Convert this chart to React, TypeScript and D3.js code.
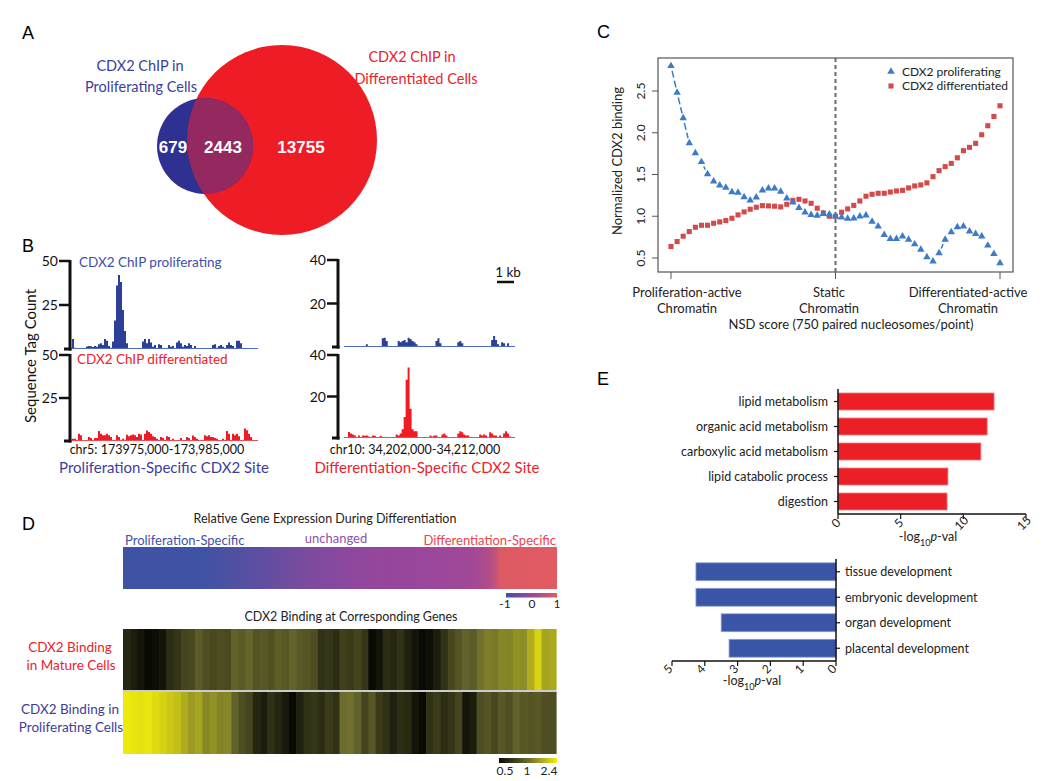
import React from 'react';
import * as d3 from 'd3';

const FONT = "Lato, 'Open Sans', sans-serif";
const BOLD = "'Liberation Sans', Arial, sans-serif";
const BLUE_TXT = '#3B3E9C';
const RED_TXT = '#EC2229';

// ---------- Panel A : Venn ----------
const vennSetLabels = [
  ['CDX2 ChIP in', 'Proliferating Cells'],
  ['CDX2 ChIP in', 'Differentiated Cells'],
];
const vennCounts = [679, 2443, 13755];

// ---------- Panel B : browser tracks ----------
const prolifSiteProlif = [
  5.5, 0.5, 0, 0, 0, 0, 0, 1.2, 1.5, 1.3,
  0.8, 1.5, 1.0, 2.5, 3.0, 2.0, 5.5, 4.5, 1.5, 0.5,
  4, 16, 36, 42, 38, 22, 10, 3, 0, 0,
  0, 0, 0, 0, 0, 4, 5.5, 3, 5.5, 3.5,
  1, 2, 0, 2.5, 2, 0, 0, 0, 2, 1,
  1.5, 0, 3.5, 4.5, 3, 1, 2, 1.5, 3, 2,
  0, 1.5, 0, 0, 0, 0, 0, 0, 0, 0,
  2, 2.5, 0.5, 1.5, 2, 1, 0, 2, 3.5, 2,
  1.5, 0, 4.5, 4.5, 3, 0, 0, 0, 0, 0,
  0, 0, 0,
];
const prolifSiteDiff = [
  1, 1, 0, 3.9, 3, 0, 0, 0, 2, 1.5,
  0, 1.5, 1.5, 5.5, 4, 3, 3, 4, 3, 2,
  0, 0, 3, 2, 0, 1, 0, 3.3, 2.5, 3,
  3.5, 3, 2, 4, 3.5, 0, 4, 5.8, 5, 4,
  2.5, 2, 1, 0, 2, 1.5, 0, 2.5, 2, 0,
  1, 0, 0, 0, 1.5, 0, 0, 2, 1.5, 0,
  2.9, 2, 1, 0, 0, 0, 3, 2.5, 3, 2,
  2, 1.5, 1, 0, 0, 1, 0, 5.5, 4, 0,
  4, 3, 4, 2.5, 0, 0, 7, 6, 4, 2,
  0, 0, 0,
];
const diffSiteProlif = [
  0, 0, 0, 0, 0, 0, 0, 0, 0, 0,
  0, 1, 0, 0, 0, 0, 0, 0, 0, 3.8,
  4, 2.5, 0, 0, 0, 0, 0, 2.6, 2, 2.6,
  3, 2, 4.1, 3.5, 2.5, 2, 1, 0, 0, 0,
  0, 0, 0, 0, 0, 0, 2.5, 3.8, 1.5, 0,
  0, 0, 0, 0, 0, 0, 0, 2, 2.6, 1.5,
  0, 0, 0, 0, 0, 0, 0, 0, 0, 0,
  0, 0, 0, 0, 3, 4.9, 3, 1, 0, 2,
  1.5, 0, 1.5, 0, 0, 0,
];
const diffSiteDiff = [
  0, 0, 2.7, 2, 1.5, 1, 0, 1, 0, 1,
  0.8, 1, 0.5, 0, 1, 0.8, 0, 0, 0.8, 0,
  0, 0, 0, 0, 0, 0, 1.5, 1, 2, 4,
  10, 28, 34, 14, 4, 3, 3, 0, 0, 0,
  0, 0, 0, 1, 0.5, 1, 1, 0, 0, 1.5,
  2, 1, 0, 0, 0, 0, 0, 2, 3, 2.5,
  1.5, 1, 1, 0, 0, 0, 0, 0, 1.5, 1,
  1.5, 1, 0, 2.5, 2, 1, 1, 0, 1, 0,
  2, 3, 2, 0.5, 0, 0,
];
const leftTicks = [50, 25];
const rightTicks = [40, 20];

// ---------- Panel C : NSD ----------
const nsdProlif = [
  2.80, 2.48, 2.175, 1.876, 1.757, 1.65, 1.506, 1.418, 1.37, 1.343,
  1.29, 1.283, 1.23, 1.19, 1.227, 1.31, 1.335, 1.335, 1.295, 1.215,
  1.167, 1.10, 1.048, 1.016, 1.008, 1.028, 1.024, 1.0, 0.988, 0.972,
  0.976, 1.0, 1.012, 0.936, 0.88, 0.777, 0.73, 0.73, 0.76, 0.72,
  0.665, 0.60, 0.51, 0.46, 0.56, 0.72, 0.81, 0.87, 0.88, 0.82,
  0.79, 0.76, 0.65, 0.55, 0.44,
];
const nsdDiff = [
  0.637, 0.697, 0.761, 0.817, 0.868, 0.892, 0.892, 0.916, 0.932, 0.948,
  0.976, 1.016, 1.052, 1.084, 1.108, 1.127, 1.124, 1.12, 1.112, 1.143,
  1.19, 1.203, 1.183, 1.155, 1.096, 1.04, 1.0, 1.0, 1.048, 1.088,
  1.13, 1.183, 1.24, 1.263, 1.275, 1.275, 1.29, 1.303, 1.31, 1.339,
  1.363, 1.375, 1.40, 1.474, 1.546, 1.594, 1.633, 1.70, 1.785, 1.825,
  1.873, 1.976, 2.084, 2.195, 2.323,
];
const nsdYTicks = [0.5, 1.0, 1.5, 2.0, 2.5];
const nsdXTickLabels = [
  ['Proliferation-active', 'Chromatin'],
  ['Static', 'Chromatin'],
  ['Differentiated-active', 'Chromatin'],
];
const nsdSeries = ['CDX2 proliferating', 'CDX2 differentiated'];

// ---------- Panel D : expression / binding heatmaps ----------
const exprStopPos = [0, 0.18, 0.30, 0.42, 0.55, 0.70, 0.80, 0.84, 0.86, 0.87, 1.0];
const exprStopVal = [-1, -1, -0.7, -0.35, -0.1, 0.0, 0.08, 0.3, 0.6, 0.95, 1];
const bindingMature = [
  0.65, 0.6, 0.55, 0.5, 0.52, 0.55, 0.68, 0.72, 0.8, 0.82,
  0.92, 0.85, 0.82, 0.85, 0.83, 0.95, 0.92, 0.97, 0.88, 0.9,
  0.86, 0.93, 0.9, 0.96, 0.9, 0.88, 0.85, 0.7, 0.72, 0.68,
  0.78, 0.75, 0.8, 0.72, 0.5, 0.55, 0.68, 0.65, 0.7, 0.62,
  0.55, 0.5, 0.52, 0.6, 0.7, 0.82, 0.88, 0.95, 0.92, 1.05,
  1.2, 1.15, 1.3, 1.25, 1.4, 1.35, 1.7, 2.1, 1.6, 1.65,
];
const bindingProlif = [
  2.35, 2.3, 2.25, 2.3, 2.2, 2.1, 2.0, 1.9, 1.7, 1.5,
  1.6, 1.3, 1.4, 1.25, 1.3, 0.95, 0.85, 0.8, 0.65, 0.6,
  0.7, 0.65, 0.58, 0.5, 0.62, 0.7, 0.72, 0.68, 0.75, 0.7,
  1.0, 1.05, 0.95, 0.8, 0.9, 0.75, 0.7, 0.62, 0.68, 0.66,
  0.55, 0.5, 0.7, 0.75, 0.68, 0.72, 0.8, 0.55, 0.6, 0.85,
  0.88, 0.82, 0.9, 0.85, 0.95, 0.9, 0.88, 0.9, 0.85, 0.85,
];
const exprLegendTicks = [-1, 0, 1];
const bindLegendTicks = [0.5, 1, 2.4];

// ---------- Panel E : GO terms ----------
const upTerms = ['lipid metabolism', 'organic acid metabolism', 'carboxylic acid metabolism', 'lipid catabolic process', 'digestion'];
const upValues = [12.45, 11.9, 11.4, 8.77, 8.7];
const upTicks = [0, 5, 10, 15];
const downTerms = ['tissue development', 'embryonic development', 'organ development', 'placental development'];
const downValues = [4.27, 4.27, 3.5, 3.26];
const downTicks = [0, 1, 2, 3, 4, 5];

const exprColor = d3.scaleLinear<string>().domain([-1, 0, 1]).range(['#3F53A4', '#9A469C', '#E15B61']);
const bindColor = d3.scaleLinear<string>().domain([0.5, 1, 2.4]).range(['#0a0a05', '#6b6b2e', '#f3ef0c']);

function Track({ data, x0, x1, yBase, yTop, max, fill, line }: any) {
  const x = d3.scaleLinear().domain([0, data.length]).range([x0, x1]);
  const y = d3.scaleLinear().domain([0, max]).range([yBase, yTop]);
  const pts = [...data, data[data.length - 1]];
  const area = d3.area<number>().x((_, i) => x(i)).y0(y(0)).y1((d) => y(d)).curve(d3.curveStepAfter);
  return (
    <g>
      <path d={area(pts) || ''} fill={fill} />
      <line x1={x0} x2={x1} y1={y(0)} y2={y(0)} stroke={line} strokeWidth={1} />
    </g>
  );
}

function BAxis({ x, yBase, yTop, max, ticks }: any) {
  const y = d3.scaleLinear().domain([0, max]).range([yBase, yTop]);
  return (
    <g>
      <line x1={x} x2={x} y1={y(max) - 1} y2={y(0) + 1.5} stroke="#111" strokeWidth={3} />
      <line x1={x - 6} x2={x + 1.5} y1={y(0)} y2={y(0)} stroke="#111" strokeWidth={3} />
      {ticks.map((t: number) => (
        <g key={t}>
          <line x1={x - 11} x2={x} y1={y(t)} y2={y(t)} stroke="#111" strokeWidth={2.5} />
          <text x={x - 12} y={y(t) + 5} textAnchor="end" fontSize={14} fill="#111">{t}</text>
        </g>
      ))}
    </g>
  );
}

function PanelA() {
  const blue = { cx: 205, cy: 146, r: 48 };
  const red = { cx: 282, cy: 140, r: 95 };
  return (
    <g>
      <defs>
        <clipPath id="redClip"><circle cx={red.cx} cy={red.cy} r={red.r} /></clipPath>
      </defs>
      <text x={22} y={39} fontSize={18} fontFamily={BOLD}>A</text>
      <circle cx={red.cx} cy={red.cy} r={red.r} fill="#EE1C25" />
      <circle cx={blue.cx} cy={blue.cy} r={blue.r} fill="#2E3192" />
      <circle cx={blue.cx} cy={blue.cy} r={blue.r} fill="#93295F" clipPath="url(#redClip)" />
      <g fontFamily={BOLD} fontWeight="bold" fontSize={17} fill="#fff" textAnchor="middle">
        <text x={173} y={153}>{vennCounts[0]}</text>
        <text x={223} y={153}>{vennCounts[1]}</text>
        <text x={301} y={153}>{vennCounts[2]}</text>
      </g>
      <g fontSize={14.5} textAnchor="middle" fill={BLUE_TXT}>
        <text x={140} y={71}>{vennSetLabels[0][0]}</text>
        <text x={141} y={92}>{vennSetLabels[0][1]}</text>
      </g>
      <g fontSize={14.5} textAnchor="middle" fill={RED_TXT}>
        <text x={412} y={62}>{vennSetLabels[1][0]}</text>
        <text x={416} y={84}>{vennSetLabels[1][1]}</text>
      </g>
    </g>
  );
}

function PanelB() {
  return (
    <g>
      <text x={22} y={252} fontSize={18} fontFamily={BOLD}>B</text>
      <text transform="translate(36,356) rotate(-90)" textAnchor="middle" fontSize={15} fill="#111">Sequence Tag Count</text>
      {/* left */}
      <BAxis x={70} yBase={349} yTop={261} max={50} ticks={leftTicks} />
      <BAxis x={70} yBase={441} yTop={355} max={50} ticks={leftTicks} />
      <Track data={prolifSiteProlif} x0={72} x1={258} yBase={348.5} yTop={261} max={50} fill="#2D3F96" line="#4A6CC6" />
      <Track data={prolifSiteDiff} x0={72} x1={258} yBase={440.5} yTop={355} max={50} fill="#EE1D25" line="#F04A52" />
      <text x={79} y={267} fontSize={13.5} fill="#4050A8">CDX2 ChIP proliferating</text>
      <text x={77} y={364} fontSize={13.5} fill={RED_TXT}>CDX2 ChIP differentiated</text>
      <text x={157} y={454} fontSize={12.5} textAnchor="middle" fill="#111">chr5: 173975,000-173,985,000</text>
      <text x={164} y={473} fontSize={15} textAnchor="middle" fill={BLUE_TXT}>Proliferation-Specific CDX2 Site</text>
      {/* right */}
      <BAxis x={338} yBase={347} yTop={260} max={40} ticks={rightTicks} />
      <BAxis x={338} yBase={438} yTop={355} max={40} ticks={rightTicks} />
      <Track data={diffSiteProlif} x0={344} x1={515} yBase={346.5} yTop={260} max={40} fill="#2D3F96" line="#4A6CC6" />
      <Track data={diffSiteDiff} x0={344} x1={515} yBase={437.5} yTop={355} max={40} fill="#EE1D25" line="#F04A52" />
      <text x={508} y={277} fontSize={13.5} textAnchor="middle" fill="#111">1 kb</text>
      <line x1={497} x2={514} y1={282} y2={282} stroke="#111" strokeWidth={2.5} />
      <text x={415} y={454} fontSize={12.5} textAnchor="middle" fill="#111">chr10: 34,202,000-34,212,000</text>
      <text x={427} y={473} fontSize={15} textAnchor="middle" fill={RED_TXT}>Differentiation-Specific CDX2  Site</text>
    </g>
  );
}

function PanelC() {
  const left = 658, right = 1013, top = 58, bottom = 272;
  const x = d3.scaleLinear().domain([0, nsdProlif.length - 1]).range([671, 1000]);
  const y = d3.scaleLinear().domain([0.5, 2.5]).range([258, 91]);
  const tri = d3.symbol().type(d3.symbolTriangle).size(24)() || '';
  const sq = d3.symbol().type(d3.symbolSquare).size(26)() || '';
  const midIdx = (nsdProlif.length - 1) / 2;
  const segs: any[] = [];
  for (let i = 0; i < nsdProlif.length - 1; i++) {
    const ax = x(i), ay = y(nsdProlif[i]), bx = x(i + 1), by = y(nsdProlif[i + 1]);
    const len = Math.hypot(bx - ax, by - ay);
    const gap = 5;
    if (len > 2 * gap + 2) {
      const ux = (bx - ax) / len, uy = (by - ay) / len;
      segs.push({ x1: ax + ux * gap, y1: ay + uy * gap, x2: bx - ux * gap, y2: by - uy * gap, k: i });
    }
  }
  const xTickIdx = [0, midIdx, nsdProlif.length - 1];
  return (
    <g>
      <text x={597} y={38} fontSize={18} fontFamily={BOLD}>C</text>
      <rect x={left} y={top} width={right - left} height={bottom - top} fill="none" stroke="#555" strokeWidth={1.2} />
      <line x1={x(midIdx)} x2={x(midIdx)} y1={top} y2={bottom} stroke="#6a6a6a" strokeWidth={2} strokeDasharray="4,3" />
      {nsdYTicks.map((t) => (
        <g key={t}>
          <line x1={left - 6} x2={left} y1={y(t)} y2={y(t)} stroke="#555" />
          <text transform={`translate(645,${y(t)}) rotate(-90)`} textAnchor="middle" fontSize={12} fill="#222">{t.toFixed(1)}</text>
        </g>
      ))}
      <text transform="translate(622,161) rotate(-90)" textAnchor="middle" fontSize={13} fill="#222">Normalized CDX2 binding</text>
      {xTickIdx.map((t, i) => (
        <g key={i}>
          <line x1={x(t)} x2={x(t)} y1={bottom} y2={bottom + 7} stroke="#555" />
        </g>
      ))}
      {[687, 829, 968].map((cx, i) => (
        <g key={i} fontSize={13} fill="#222" textAnchor="middle">
          <text x={cx} y={297}>{nsdXTickLabels[i][0]}</text>
          <text x={cx} y={313}>{nsdXTickLabels[i][1]}</text>
        </g>
      ))}
      <text x={851} y={329} fontSize={13} textAnchor="middle" fill="#222">NSD score (750 paired nucleosomes/point)</text>
      {segs.map((s) => (
        <line key={s.k} x1={s.x1} y1={s.y1} x2={s.x2} y2={s.y2} stroke="#3B7BC8" strokeWidth={1.5} strokeDasharray="7,3" />
      ))}
      {nsdDiff.map((v, i) => (
        <path key={'d' + i} d={sq} transform={`translate(${x(i)},${y(v)})`} fill="#D24B4A" />
      ))}
      {nsdProlif.map((v, i) => (
        <path key={'p' + i} d={tri} transform={`translate(${x(i)},${y(v)})`} fill="#3B7BC8" />
      ))}
      <path d={tri} transform="translate(891,71.5)" fill="#3B7BC8" />
      <path d={sq} transform="translate(891,86)" fill="#D24B4A" />
      <text x={902} y={75.5} fontSize={12} fill="#222">{nsdSeries[0]}</text>
      <text x={902} y={90} fontSize={12} fill="#222">{nsdSeries[1]}</text>
    </g>
  );
}

function PanelD() {
  const bx0 = 123, bx1 = 557;
  const col = d3.scaleBand<number>().domain(d3.range(bindingMature.length)).range([bx0, 556]);
  return (
    <g>
      <defs>
        <linearGradient id="exprGrad" x1="0" x2="1" y1="0" y2="0">
          {exprStopPos.map((p, i) => (
            <stop key={i} offset={p} stopColor={exprColor(exprStopVal[i])} />
          ))}
        </linearGradient>
        <linearGradient id="exprLegend" x1="0" x2="1" y1="0" y2="0">
          {exprLegendTicks.map((t, i) => (
            <stop key={i} offset={i / (exprLegendTicks.length - 1)} stopColor={exprColor(t)} />
          ))}
        </linearGradient>
        <linearGradient id="bindLegend" x1="0" x2="1" y1="0" y2="0">
          {bindLegendTicks.map((t, i) => (
            <stop key={i} offset={i / (bindLegendTicks.length - 1)} stopColor={bindColor(t)} />
          ))}
        </linearGradient>
      </defs>
      <text x={22} y={530} fontSize={18} fontFamily={BOLD}>D</text>
      <text x={325} y={523} fontSize={12.5} textAnchor="middle" fill="#222">Relative Gene Expression During Differentiation</text>
      <text x={125} y={545} fontSize={13} fill="#4050A8">Proliferation-Specific</text>
      <text x={336} y={543} fontSize={13} textAnchor="middle" fill="#9050A8">unchanged</text>
      <text x={556} y={545} fontSize={13} textAnchor="end" fill="#E8454E">Differentiation-Specific</text>
      <rect x={bx0} y={547} width={bx1 - bx0} height={42} fill="url(#exprGrad)" />
      <rect x={506} y={593} width={51} height={4.5} fill="url(#exprLegend)" />
      {exprLegendTicks.map((t, i) => (
        <text key={t} x={[505, 532, 557][i]} y={608} fontSize={12} textAnchor="middle" fill="#222">{t}</text>
      ))}
      <text x={351} y={621} fontSize={12.5} textAnchor="middle" fill="#222">CDX2 Binding at Corresponding Genes</text>
      {bindingMature.map((v, i) => (
        <rect key={'m' + i} x={col(i)} y={629} width={col.bandwidth() + 0.6} height={61} fill={bindColor(v)} />
      ))}
      {bindingProlif.map((v, i) => (
        <rect key={'p' + i} x={col(i)} y={692} width={col.bandwidth() + 0.6} height={62} fill={bindColor(v)} />
      ))}
      <line x1={bx0} x2={556.6} y1={691} y2={691} stroke="#bbb" strokeWidth={1.5} />
      <g fontSize={13.5} textAnchor="middle">
        <text x={70} y={652} fill={RED_TXT}>CDX2 Binding</text>
        <text x={71} y={670} fill={RED_TXT}>in Mature Cells</text>
        <text x={70} y={714} fill={BLUE_TXT}>CDX2 Binding in</text>
        <text x={71} y={732} fill={BLUE_TXT}>Proliferating Cells</text>
      </g>
      <rect x={499} y={758} width={58} height={5} fill="url(#bindLegend)" />
      {bindLegendTicks.map((t, i) => (
        <text key={t} x={[505, 527, 549][i]} y={775} fontSize={12} textAnchor="middle" fill="#222">{t}</text>
      ))}
    </g>
  );
}

function LogLabel({ x, y }: any) {
  return (
    <text x={x} y={y} fontSize={12.5} textAnchor="middle" fill="#222">
      -log<tspan dy={5} fontSize={9}>10</tspan><tspan dy={-5} fontStyle="italic">p</tspan>-val
    </text>
  );
}

function PanelE() {
  const ux = d3.scaleLinear().domain([0, 15]).range([838, 1026]);
  const uy = d3.scaleBand<string>().domain(upTerms).range([389, 514]).paddingInner(0.32).paddingOuter(0.16);
  const dx = d3.scaleLinear().domain([0, 5]).range([836, 672]);
  const dy = d3.scaleBand<string>().domain(downTerms).range([559, 661]).paddingInner(0.3).paddingOuter(0.15);
  return (
    <g>
      <text x={597} y={385} fontSize={18} fontFamily={BOLD}>E</text>
      {upTerms.map((t, i) => (
        <g key={t}>
          <rect x={ux(0)} y={uy(t)} width={ux(upValues[i]) - ux(0)} height={uy.bandwidth()} fill="#ED1F26" stroke="#F37B7F" strokeWidth={0.8} />
          <line x1={834} x2={838} y1={(uy(t) || 0) + uy.bandwidth() / 2} y2={(uy(t) || 0) + uy.bandwidth() / 2} stroke="#111" strokeWidth={1.2} />
          <text x={828} y={(uy(t) || 0) + uy.bandwidth() / 2 + 4.5} fontSize={12.5} textAnchor="end" fill="#222">{t}</text>
        </g>
      ))}
      <line x1={838} x2={838} y1={389} y2={514} stroke="#111" strokeWidth={1.5} />
      <line x1={838} x2={1026} y1={514} y2={514} stroke="#111" strokeWidth={1.5} />
      {upTicks.map((t) => (
        <g key={t}>
          <line x1={ux(t)} x2={ux(t)} y1={514} y2={519} stroke="#111" strokeWidth={1.2} />
          <text transform={`translate(${ux(t) + 1},${526}) rotate(-45)`} fontSize={12} textAnchor="middle" fill="#222">{t}</text>
        </g>
      ))}
      <LogLabel x={928} y={541} />

      {downTerms.map((t, i) => (
        <g key={t}>
          <rect x={dx(downValues[i])} y={dy(t)} width={dx(0) - dx(downValues[i])} height={dy.bandwidth()} fill="#3A55A6" stroke="#8A9BD0" strokeWidth={0.8} />
          <line x1={836} x2={840} y1={(dy(t) || 0) + dy.bandwidth() / 2} y2={(dy(t) || 0) + dy.bandwidth() / 2} stroke="#111" strokeWidth={1.2} />
          <text x={845} y={(dy(t) || 0) + dy.bandwidth() / 2 + 4.5} fontSize={12.5} fill="#222">{t}</text>
        </g>
      ))}
      <line x1={836} x2={836} y1={559} y2={661} stroke="#111" strokeWidth={1.5} />
      <line x1={672} x2={836} y1={661} y2={661} stroke="#111" strokeWidth={1.5} />
      {downTicks.map((t) => (
        <g key={t}>
          <line x1={dx(t)} x2={dx(t)} y1={661} y2={666} stroke="#111" strokeWidth={1.2} />
          <text transform={`translate(${dx(t) - 1},${672}) rotate(-45)`} fontSize={12} textAnchor="middle" fill="#222">{t}</text>
        </g>
      ))}
      <LogLabel x={752} y={685} />
    </g>
  );
}

export default function App() {
  return (
    <svg width={1050} height={781} style={{ position: 'absolute', left: 0, top: 0, background: '#fff' }} fontFamily={FONT}>
      <rect width={1050} height={781} fill="#fff" />
      <PanelA />
      <PanelB />
      <PanelC />
      <PanelD />
      <PanelE />
    </svg>
  );
}
